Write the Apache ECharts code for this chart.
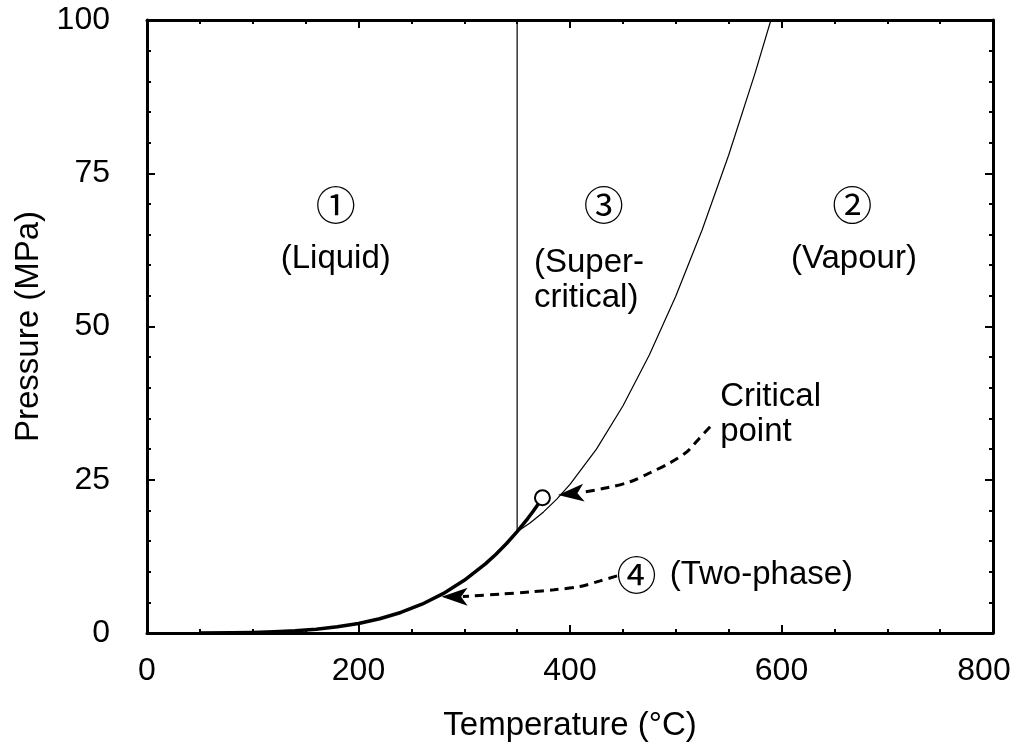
<!DOCTYPE html>
<html>
<head>
<meta charset="utf-8">
<script src="https://cdn.jsdelivr.net/npm/echarts@6/dist/echarts.min.js"></script>
<style>
  html, body { margin: 0; padding: 0; background: #fff; }
  #phase_chart { width: 1016px; height: 744px; }
</style>
</head>
<body>
<div id="phase_chart"></div>
<script>
// saturation line (two-phase), °C / MPa
const satTemp = [50, 80, 100, 120, 140, 160, 180, 200, 220, 240, 260, 280, 300, 320, 330, 340, 350, 360, 365, 370, 373.946];
const satPres = [0.012, 0.047, 0.101, 0.199, 0.362, 0.618, 1.003, 1.555, 2.320, 3.347, 4.692, 6.417, 8.588, 11.28, 12.86, 14.60, 16.53, 18.67, 19.82, 21.04, 22.064];

// boundary between region 2 and 3
const b23Temp = [350, 362.5, 375, 387.5, 400, 425, 450, 475, 500, 525, 550, 575, 590, 595];
const b23Pres = [16.53, 17.98, 19.75, 21.83, 24.23, 29.99, 37.03, 45.35, 54.93, 65.79, 77.93, 91.34, 100.0, 102.98];

// boundary between region 1 and 3
const b13Temp = [350, 350];
const b13Pres = [16.53, 100];

const criticalPoint = [373.946, 22.064];

// annotation arrows (tail -> back of head), plus the tip
const critArrowTemp = [532.5, 521.2, 510.8, 494.7, 475.7, 456.8, 435.0, 409.5];
const critArrowPres = [33.66, 31.54, 29.58, 27.78, 26.14, 24.67, 23.69, 22.88];
const critArrowTip = [388.6, 22.55];

const twoArrowTemp = [444.5, 428.4, 409.5, 385.0, 362.1, 335.0, 308.1, 298.7];
const twoArrowPres = [9.31, 8.50, 7.57, 7.05, 6.70, 6.35, 6.05, 5.96];
const twoArrowTip = [278.6, 5.93];

// text labels
const circledLabels = [
    { text: '①', at: [178.5, 69.9] },
    { text: '③', at: [432, 69.9] },
    { text: '②', at: [667, 69.9] }
];
const centerLabels = [
    { text: '(Liquid)', at: [178.5, 61.0] },
    { text: '(Vapour)', at: [668.5, 61.0] }
];
const leftLabels = [
    { text: '(Super-\ncritical)', at: [365.9, 57.6] },
    { text: 'Critical\npoint', at: [542, 35.7] },
    { text: '{c|④} (Two-phase)', at: [444.0, 9.5] }
];

const FONT = '"Liberation Sans", Arial, sans-serif';
const CIRCLE_FONT = '"Noto Sans CJK JP", "DejaVu Sans", sans-serif';
const TICK_SIZE = 32;
const TEXT_SIZE = 33;
const CIRCLE_SIZE = 40;

const zip = (xs, ys) => xs.map((x, i) => [x, ys[i]]);

const arrowHead = 'path://M6,0 L12,20 L6,15 L0,20 Z';

const baseAxis = (position, showLabel) => ({
    type: 'value',
    position,
    axisLine: { show: true, onZero: false, lineStyle: { color: '#000', width: 3 } },
    axisTick: { show: true, inside: true, length: 8, lineStyle: { color: '#000', width: 2 } },
    minorTick: { show: true, length: 4, lineStyle: { color: '#000', width: 2 } },
    splitLine: { show: false },
    minorSplitLine: { show: false },
    axisLabel: { show: showLabel, fontSize: TICK_SIZE, color: '#000', fontFamily: FONT }
});

const drawPhaseChart = () => {
    const chart = echarts.init(document.getElementById('phase_chart'));

    const xBottom = Object.assign(baseAxis('bottom', true), {
        min: 0, max: 800, interval: 200,
        name: 'Temperature (°C)', nameLocation: 'middle', nameGap: 76,
        nameTextStyle: { fontSize: TEXT_SIZE, color: '#000', fontFamily: FONT }
    });
    xBottom.minorTick.splitNumber = 4;
    xBottom.axisLabel.margin = 22;
    // last label sits a little left so it stays on the page
    xBottom.axisLabel.formatter = (v) => v === 800 ? '{r|800}' : String(v);
    xBottom.axisLabel.rich = { r: { fontSize: TICK_SIZE, color: '#000', fontFamily: FONT, padding: [0, 18, 0, 0] } };
    const xTop = Object.assign(baseAxis('top', false), { min: 0, max: 800, interval: 200 });
    xTop.minorTick.splitNumber = 4;

    const yLeft = Object.assign(baseAxis('left', true), {
        min: 0, max: 100, interval: 25,
        name: 'Pressure (MPa)', nameLocation: 'middle', nameGap: 95, nameRotate: 90,
        nameTextStyle: { fontSize: TEXT_SIZE, color: '#000', fontFamily: FONT }
    });
    yLeft.minorTick.splitNumber = 5;
    yLeft.axisLabel.margin = 37;
    const yRight = Object.assign(baseAxis('right', false), { min: 0, max: 100, interval: 25 });
    yRight.minorTick.splitNumber = 5;

    const dashed = { color: '#000', width: 3, type: [9, 6] };
    const solid = { opacity: 1 };

    const series = [
        {
            type: 'line', data: zip(b23Temp, b23Pres), showSymbol: false,
            lineStyle: { color: '#000', width: 1.2 }, z: 2
        },
        {
            type: 'line', data: zip(b13Temp, b13Pres), showSymbol: false,
            lineStyle: { color: '#000', width: 1.2 }, z: 2
        },
        {
            type: 'line', data: zip(satTemp, satPres), showSymbol: false,
            lineStyle: { color: '#000', width: 3.5, join: 'round' }, z: 3
        },
        {
            type: 'scatter', data: [criticalPoint], symbol: 'circle', symbolSize: 15,
            itemStyle: { color: '#fff', borderColor: '#000', borderWidth: 2, opacity: 1 }, z: 5
        },
        {
            type: 'line', data: zip(critArrowTemp, critArrowPres), showSymbol: false,
            smooth: 0.3, lineStyle: dashed, z: 4
        },
        {
            type: 'line', data: zip(twoArrowTemp, twoArrowPres), showSymbol: false,
            smooth: 0.3, lineStyle: dashed, z: 4
        },
        {
            type: 'scatter', symbol: arrowHead, symbolSize: [18, 26],
            data: [
                { value: critArrowTip, symbolRotate: 95, symbolOffset: [13, -1] },
                { value: twoArrowTip, symbolRotate: 90, symbolOffset: [13, 0] }
            ],
            itemStyle: { color: '#000', opacity: 1 }, z: 6
        },
        {
            type: 'scatter', symbolSize: 0, silent: true, itemStyle: solid,
            data: circledLabels.map(l => ({ value: l.at, name: l.text })),
            label: {
                show: true, position: 'inside', formatter: '{b}',
                fontSize: CIRCLE_SIZE, color: '#000', fontFamily: CIRCLE_FONT
            }
        },
        {
            type: 'scatter', symbolSize: 0, silent: true, itemStyle: solid,
            data: centerLabels.map(l => ({ value: l.at, name: l.text })),
            label: {
                show: true, position: 'inside', formatter: '{b}',
                fontSize: TEXT_SIZE, color: '#000', fontFamily: FONT
            }
        },
        {
            type: 'scatter', symbolSize: 0, silent: true, itemStyle: solid,
            data: leftLabels.map(l => ({ value: l.at, name: l.text })),
            label: {
                show: true, position: 'right', distance: 0, formatter: '{b}',
                fontSize: TEXT_SIZE, lineHeight: 35, color: '#000', fontFamily: FONT,
                rich: { c: { fontSize: CIRCLE_SIZE, fontFamily: CIRCLE_FONT, color: '#000', padding: [0, 4, 0, 0] } }
            }
        }
    ];

    chart.setOption({
        animation: false,
        backgroundColor: '#fff',
        grid: { left: 147, right: 23, top: 20, bottom: 111, containLabel: false, outerBoundsMode: 'none' },
        xAxis: [xBottom, xTop],
        yAxis: [yLeft, yRight],
        series
    });
};

document.addEventListener('DOMContentLoaded', () => {
    drawPhaseChart();
});
</script>
</body>
</html>
